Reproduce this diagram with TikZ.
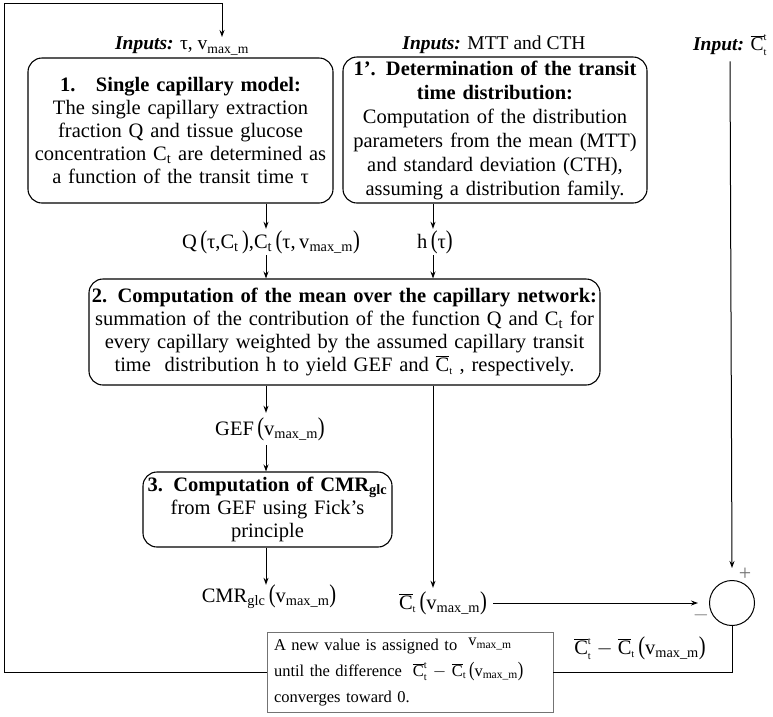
\documentclass[tikz,border=0pt]{standalone}
\usepackage{fontspec}
\setmainfont{Liberation Serif}
\usetikzlibrary{arrows.meta,calc}
\newcommand{\vm}{v\textsubscript{max\_m}}
\newcommand{\Ct}{C\textsubscript{t}}
\newcommand{\tsz}{\fontsize{10.5}{10.5}\selectfont}
\newcommand{\Cbt}{$\overline{\mbox{C}}_{\mbox{\tsz t}}$}
\newcommand{\Cbtt}{$\overline{\mbox{C}}^{\mbox{\tsz t}}_{\mbox{\tsz t}}$}
\newcommand{\lp}{\,\scalebox{1}[1.25]{(}}
\newcommand{\rp}{\scalebox{1}[1.25]{)}}
\begin{document}
\begin{tikzpicture}[x=1pt,y=-1pt,
  every node/.style={font=\fontsize{20.5}{23}\selectfont},
  box/.style={draw, rounded corners=14pt, line width=1.1pt, align=center, inner sep=0pt},
  lbl/.style={inner sep=2pt},
  inp/.style={inner sep=2pt, font=\fontsize{19.5}{22}\selectfont},
  arr/.style={line width=1pt,-{Stealth[length=7pt,width=5pt]}},
  ln/.style={line width=1pt}]
\useasboundingbox (0,0) rectangle (773,716);

% input labels
\node[inp] (in1) at (182,46) {\textbf{\textit{Inputs:}} τ, \vm};
\node[inp] (in2) at (494,45) {\textbf{\textit{Inputs:}} MTT and CTH};
\node[inp] (in3) at (730,45) {\textbf{\textit{Input:}} \Cbtt};

% boxes
\node[box, minimum width=305pt, minimum height=145pt, text width=300pt] (b1) at (180.5,130.5)
 {\textbf{1.\quad Single capillary model:}\\ The single capillary extraction\\ fraction Q and tissue glucose\\ concentration \Ct{} are determined as\\ a function of the transit time τ};
\node[box, minimum width=304pt, minimum height=146pt, text width=302pt, font=\fontsize{20.5}{24}\selectfont] (b1p) at (495,130)
 {\textbf{1’. Determination of the transit}\\ \textbf{time distribution:}\\ Computation of the distribution\\ parameters from the mean (MTT)\\ and standard deviation (CTH),\\ assuming a distribution family.};
\node[box, minimum width=511pt, minimum height=106pt, text width=509pt] (b2) at (344.5,332)
 {\textbf{2. Computation of the mean over the capillary network:}\\ summation of the contribution of the function Q and \Ct{} for\\ every capillary weighted by the assumed capillary transit\\ time\ \ distribution h to yield GEF and \Cbt{} , respectively.};
\node[box, minimum width=249pt, minimum height=75pt, text width=245pt] (b3) at (267.5,509.5)
 {\textbf{3. Computation of CMR\textsubscript{glc}}\\ from GEF using Fick’s\\ principle};
\node[draw=black!55, line width=0.8pt, minimum width=286pt, minimum height=80pt, text width=272pt, align=left, inner sep=0pt,
  font=\fontsize{16.5}{26}\selectfont] (b4) at (410,672)
 {A new value is assigned to\ \ \raisebox{0.6ex}{\vm}\\ until the difference\ \ \Cbtt{} $-$ \Cbt\lp\vm\rp\\ converges toward 0.};
\node[draw, line width=1pt, circle, minimum size=45pt, inner sep=0pt] (sum) at (732,603) {};
\node[text=black!55, font=\fontsize{22}{22}\selectfont] (plus) at (745,574) {+};
\node[text=black!55, font=\fontsize{22}{22}\selectfont] (minus) at (701,615) {$-$};

% column coordinates
\coordinate (cA) at (266,0);
\coordinate (cB) at (433,0);

% labels
\node[lbl, inner sep=0pt, minimum height=26pt] (lq) at (271,242) {Q\lp τ,\Ct\,\rp,\Ct\lp τ,\,\vm\rp};
\node[lbl, inner sep=0pt, minimum height=26pt] (lh) at (435,242) {h\lp τ\rp};
\node[lbl, inner sep=0pt, minimum height=32pt] (lgef) at (270,429) {GEF\lp \vm\rp};
\node[lbl, inner sep=0pt, minimum height=24pt] (lcmr) at (269,597) {CMR\textsubscript{glc}\lp \vm\rp};
\node[lbl, inner sep=0pt, minimum height=30pt] (lcb) at (443,603) {\Cbt\lp \vm\rp};
\node[lbl] (ldiff) at (640,648) {\Cbtt{} $-$ \Cbt\lp \vm\rp};

% connectors
\draw[arr] (b1.south -| cA) -- (lq.north -| cA);
\draw[arr] (lq.south -| cA) -- (b2.north -| cA);
\draw[arr] (b1p.south -| cB) -- (lh.north -| cB);
\draw[arr] (lh.south -| cB) -- (b2.north -| cB);
\draw[arr] (b2.south -| cA) -- (lgef.north -| cA);
\draw[arr] (lgef.south -| cA) -- (b3.north -| cA);
\draw[arr] (b3.south -| cA) -- (lcmr.north -| cA);
\draw[arr] (b2.south -| cB) -- (lcb.north -| cB);
\draw[arr] ($(lcb.east)+(6,0)$) -- ($(sum.west)+(-11,0)$);
\draw[arr] ($(in3.south)+(0,4)$) -- ($(sum.north)+(0,-12)$);
\draw[ln] (sum.south) -- (sum.south |- b4.east) -- (b4.east);
\draw[arr] (b4.west) -- (4,672) -- (4,3) -- (222,3) -- ($(in1.north -| 222,0)+(0,2)$);
\end{tikzpicture}
\end{document}
